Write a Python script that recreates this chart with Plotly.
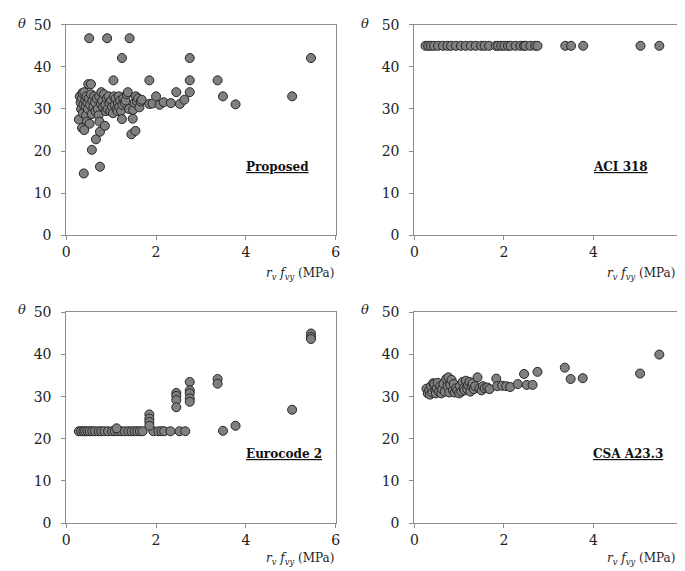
import plotly.graph_objects as go

# ---- Data ----
prop_x = [0.28,0.30,0.32,0.33,0.35,0.36,0.37,0.38,0.40,0.42,0.43,0.44,0.45,0.46,0.47,0.48,0.50,0.52,0.35,0.40,0.39,
          0.53,0.55,0.57,0.58,0.60,0.62,0.64,0.65,0.66,0.57,0.68,0.70,0.72,0.73,0.74,0.75,0.75,0.77,0.78,0.80,0.82,
          0.84,0.86,0.87,0.88,0.90,0.92,0.94,0.96,0.98,1.00,1.02,1.04,1.06,1.08,1.10,1.12,1.14,1.15,1.17,1.18,1.20,
          1.22,1.24,1.25,1.27,1.30,1.32,1.35,1.37,1.40,1.45,1.48,1.49,1.52,1.54,1.55,1.57,1.60,1.63,1.66,1.68,1.85,
          1.92,2.00,2.08,2.17,2.33,2.53,2.63,2.75,2.45,
          0.51,0.91,1.41,1.24,2.75,5.45,1.05,1.85,2.75,3.37,3.49,3.77,5.03,0.49,0.55]
prop_y = [27.5,33.0,31.5,30.0,32.5,33.8,29.0,31.0,34.0,32.0,30.5,28.5,33.0,27.0,31.5,30.0,32.5,26.5,25.5,25.0,14.7,
          31.0,33.5,28.8,32.0,30.5,33.0,31.5,29.5,22.8,20.3,32.5,30.0,28.5,33.0,27.0,24.6,16.3,31.2,34.0,32.0,30.5,
          33.5,26.0,31.0,29.5,32.5,30.0,33.0,31.5,29.5,32.0,30.5,29.0,33.0,31.0,32.5,30.0,29.5,31.5,33.0,30.5,32.0,
          29.5,27.6,31.0,32.5,31.5,32.0,33.5,34.0,30.0,24.0,27.7,29.8,31.5,24.8,33.0,31.9,32.5,30.4,31.8,32.2,31.2,
          31.3,33.0,31.0,31.6,31.4,31.2,32.2,34.0,34.0,
          46.8,46.8,46.8,42.1,42.1,42.1,36.8,36.8,36.8,36.8,33.0,31.1,33.0,35.9,35.9]

aci_x = [0.25,0.31,0.37,0.44,0.53,0.64,0.74,0.82,0.93,1.04,1.15,1.26,1.37,1.49,1.57,1.67,1.82,1.87,
         1.94,2.01,2.09,2.15,2.26,2.37,2.45,2.48,2.59,2.70,2.75,3.37,3.50,3.77,5.05,5.47]
aci_y = [45.0] * len(aci_x)

ec2_x = [0.28,0.33,0.38,0.42,0.47,0.52,0.58,0.64,0.72,0.78,0.85,0.93,1.02,1.08,1.15,1.22,1.30,1.38,1.45,
         1.52,1.58,1.64,1.70,1.94,2.05,2.12,2.18,2.32,2.52,2.65,3.49,1.12,
         1.85,1.85,1.85,1.85,2.45,2.45,2.45,2.45,2.75,2.75,2.75,2.75,2.75,3.37,3.37,3.77,5.03,5.45,5.45,5.45]
ec2_y = [21.8,21.8,21.8,21.8,21.8,21.8,21.8,21.8,21.8,21.8,21.8,21.8,21.8,21.8,21.8,21.8,21.8,21.8,21.8,
         21.8,21.8,21.8,21.8,21.8,21.8,21.8,21.8,21.8,21.8,21.8,21.9,22.5,
         25.8,24.8,24.0,23.1,30.9,30.2,29.2,27.5,33.5,31.5,30.8,29.6,28.8,34.2,33.1,23.1,26.9,45.0,44.2,43.7]

csa_x = [0.27,0.30,0.33,0.35,0.37,0.40,0.42,0.45,0.47,0.48,0.50,0.52,0.55,0.58,0.60,0.62,0.65,0.68,0.71,0.74,
         0.76,0.78,0.80,0.83,0.86,0.88,0.90,0.93,0.96,1.00,1.02,1.05,1.08,1.10,1.12,1.15,1.18,1.20,1.23,1.25,
         1.28,1.30,1.33,1.36,1.41,1.45,1.50,1.53,1.57,1.63,1.68,1.83,1.85,1.96,2.05,2.14,2.31,2.45,2.51,2.64,
         2.75,3.36,3.49,3.76,5.04,5.47]
csa_y = [31.9,30.8,31.5,30.5,32.5,31.0,33.2,33.0,31.5,30.8,32.0,33.3,31.2,32.5,30.8,31.8,33.0,31.2,34.2,32.5,
         34.6,31.0,32.8,34.0,31.5,33.0,31.0,32.0,31.5,30.8,32.5,31.2,33.5,32.0,31.5,33.8,31.8,32.8,33.5,31.2,
         32.5,33.2,31.8,32.5,34.6,32.0,31.5,32.5,32.0,32.2,31.8,34.3,32.5,32.6,32.5,32.3,33.0,35.4,32.8,32.8,
         35.9,36.9,34.2,34.4,35.5,40.0]

panels = [
    ("Proposed", prop_x, prop_y),
    ("ACI 318", aci_x, aci_y),
    ("Eurocode 2", ec2_x, ec2_y),
    ("CSA A23.3", csa_x, csa_y),
]

W, H = 685, 571
xdom = [(55 / W, 328 / W), (407.7 / W, 680 / W)]
ydom = [(1 - 225.7 / H, 1 - 9 / H), (1 - 521.7 / H, 1 - 305 / H)]

FONT = "DejaVu Serif"
fig = go.Figure()
layout = dict(width=W, height=H, margin=dict(l=0, r=0, t=0, b=0),
              paper_bgcolor="white", plot_bgcolor="white", showlegend=False,
              font=dict(family=FONT, size=13, color="#222222"))
annotations = []

for i, (name, xs, ys) in enumerate(panels):
    row, col = divmod(i, 2)
    n = i + 1
    xa = "x" if n == 1 else f"x{n}"
    ya = "y" if n == 1 else f"y{n}"
    fig.add_trace(go.Scatter(
        x=xs, y=ys, mode="markers", xaxis=xa, yaxis=ya,
        marker=dict(size=9, color="#808080", line=dict(color="#262626", width=1)),
    ))
    axcommon = dict(showgrid=False, zeroline=False, showline=True, mirror=True,
                    linecolor="#8c8c8c", linewidth=1, ticks="outside", ticklen=4,
                    tickcolor="#8c8c8c", tickfont=dict(family=FONT, size=14, color="#222222"))
    layout["xaxis" if n == 1 else f"xaxis{n}"] = dict(
        domain=list(xdom[col]), range=[0, 6], dtick=2, anchor=ya, **axcommon)
    layout["yaxis" if n == 1 else f"yaxis{n}"] = dict(
        domain=list(ydom[row]), range=[0, 50], dtick=10, anchor=xa, ticklabelstandoff=7, **axcommon)

    annotations.append(dict(x=3.95, y=16.3, xref=xa, yref=ya, xanchor="left", yanchor="middle",
                            text=f"<b><u>{name}</u></b>", showarrow=False,
                            font=dict(family=FONT, size=12, color="#111111")))
    # theta label
    tx = [10, 358][col]
    ty = [8, 302][row]
    annotations.append(dict(x=tx / W, y=1 - ty / H, xref="paper", yref="paper",
                            xanchor="center", yanchor="middle", text="<i>θ</i>", showarrow=False,
                            font=dict(family=FONT, size=13, color="#222222")))
    # x label
    lx = [328, 674][col]
    ly = [265, 559][row]
    annotations.append(dict(x=lx / W, y=1 - ly / H, xref="paper", yref="paper",
                            xanchor="right", yanchor="middle",
                            text="<i>r<sub>v</sub> f<sub>vy</sub></i> (MPa)", showarrow=False,
                            font=dict(family=FONT, size=12, color="#222222")))

layout["annotations"] = annotations
fig.update_layout(**layout)
fig.write_html("out.html")
